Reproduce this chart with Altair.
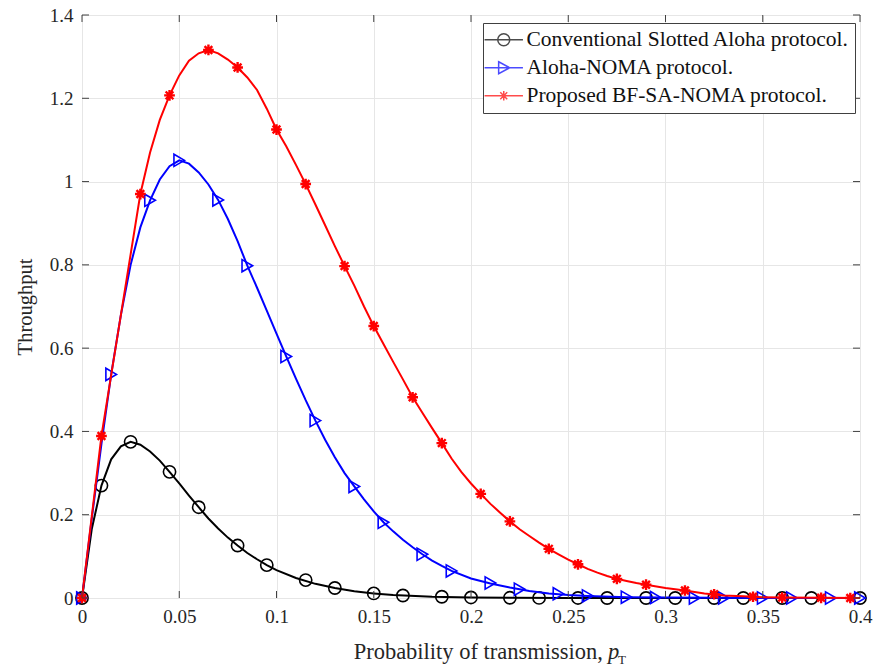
import altair as alt
import pandas as pd

# ---------------- data ----------------
names = ["Conventional Slotted Aloha protocol.", "Aloha-NOMA protocol.", "Proposed BF-SA-NOMA protocol."]
colors = ["#000000", "#0000ff", "#ff0000"]

# Conventional slotted Aloha (black)
black_x = [0, 0.005, 0.01, 0.015, 0.02, 0.025, 0.03, 0.035, 0.04, 0.045, 0.05, 0.055, 0.06, 0.065,
           0.07, 0.075, 0.08, 0.085, 0.09, 0.095, 0.1, 0.11, 0.12, 0.13, 0.14, 0.15, 0.16, 0.18,
           0.2, 0.22, 0.25, 0.3, 0.35, 0.4]
black_y = [0, 0.165, 0.27, 0.333, 0.364, 0.375, 0.368, 0.352, 0.33, 0.303, 0.275, 0.246, 0.218, 0.191,
           0.167, 0.145, 0.126, 0.108, 0.093, 0.079, 0.067, 0.048, 0.034, 0.024, 0.016, 0.011, 0.007, 0.003,
           0.0013, 0.0005, 0.0001, 0, 0, 0]
black_mx = [0, 0.01, 0.025, 0.045, 0.06, 0.08, 0.095, 0.115, 0.13, 0.15, 0.165, 0.185, 0.2, 0.22,
            0.235, 0.255, 0.27, 0.29, 0.305, 0.325, 0.34, 0.36, 0.375, 0.4]
black_my = [0, 0.27, 0.375, 0.303, 0.218, 0.126, 0.079, 0.043, 0.024, 0.011, 0.006, 0.003, 0.0013, 0.0005,
            0.0002, 0.0001, 0, 0, 0, 0, 0, 0, 0, 0]

# Aloha-NOMA (blue)
blue_x = [0, 0.005, 0.01, 0.015, 0.02, 0.025, 0.03, 0.035, 0.04, 0.045, 0.05, 0.055, 0.06, 0.065,
          0.07, 0.075, 0.08, 0.085, 0.09, 0.095, 0.1, 0.105, 0.11, 0.115, 0.12, 0.125, 0.13, 0.135,
          0.14, 0.145, 0.15, 0.155, 0.16, 0.165, 0.17, 0.175, 0.18, 0.185, 0.19, 0.2, 0.21, 0.22,
          0.23, 0.24, 0.25, 0.26, 0.28, 0.3, 0.35, 0.4]
blue_y = [0, 0.19, 0.37, 0.537, 0.68, 0.8, 0.89, 0.955, 1.005, 1.037, 1.051, 1.043, 1.022, 0.993,
          0.956, 0.91, 0.857, 0.798, 0.745, 0.69, 0.635, 0.58, 0.527, 0.475, 0.426, 0.38, 0.338, 0.3,
          0.268, 0.237, 0.208, 0.182, 0.16, 0.14, 0.122, 0.105, 0.09, 0.077, 0.065, 0.047, 0.035, 0.025,
          0.017, 0.011, 0.007, 0.005, 0.002, 0.001, 0, 0]
blue_mx = [0, 0.015, 0.035, 0.05, 0.07, 0.085, 0.105, 0.12, 0.14, 0.155, 0.175, 0.19, 0.21, 0.225,
           0.245, 0.26, 0.28, 0.295, 0.315, 0.33, 0.35, 0.365, 0.385, 0.4]
blue_my = [0, 0.537, 0.955, 1.051, 0.956, 0.798, 0.58, 0.426, 0.268, 0.182, 0.105, 0.065, 0.036, 0.021,
           0.01, 0.005, 0.002, 0.001, 0, 0, 0, 0, 0, 0]

# Proposed BF-SA-NOMA (red)
red_x = [0, 0.005, 0.01, 0.015, 0.02, 0.025, 0.03, 0.035, 0.04, 0.045, 0.05, 0.055, 0.06, 0.065,
         0.07, 0.075, 0.08, 0.085, 0.09, 0.095, 0.1, 0.105, 0.11, 0.115, 0.12, 0.125, 0.13, 0.135,
         0.14, 0.145, 0.15, 0.155, 0.16, 0.165, 0.17, 0.175, 0.18, 0.185, 0.19, 0.195, 0.2, 0.205,
         0.21, 0.215, 0.22, 0.225, 0.23, 0.235, 0.24, 0.245, 0.25, 0.255, 0.26, 0.265, 0.27, 0.275,
         0.28, 0.285, 0.29, 0.3, 0.31, 0.32, 0.33, 0.34, 0.35, 0.36, 0.38, 0.4]
red_y = [0, 0.195, 0.389, 0.535, 0.68, 0.825, 0.97, 1.07, 1.148, 1.207, 1.255, 1.29, 1.308, 1.316,
         1.308, 1.293, 1.274, 1.25, 1.22, 1.175, 1.125, 1.085, 1.04, 0.994, 0.945, 0.895, 0.845, 0.797,
         0.75, 0.7, 0.653, 0.61, 0.567, 0.525, 0.482, 0.445, 0.408, 0.372, 0.335, 0.303, 0.275, 0.25,
         0.226, 0.205, 0.184, 0.165, 0.149, 0.133, 0.118, 0.105, 0.092, 0.081, 0.07, 0.061, 0.053, 0.046,
         0.041, 0.036, 0.032, 0.024, 0.018, 0.011, 0.006, 0.004, 0.002, 0.001, 0.0005, 0]
red_mx = [0, 0.01, 0.03, 0.045, 0.065, 0.08, 0.1, 0.115, 0.135, 0.15, 0.17, 0.185, 0.205, 0.22,
          0.24, 0.255, 0.275, 0.29, 0.31, 0.325, 0.345, 0.36, 0.38, 0.395]
red_my = [0, 0.389, 0.97, 1.207, 1.316, 1.274, 1.125, 0.994, 0.797, 0.653, 0.482, 0.372, 0.25, 0.184,
          0.118, 0.081, 0.046, 0.032, 0.018, 0.009, 0.003, 0.001, 0.0005, 0]

x_ticks = [0, 0.05, 0.1, 0.15, 0.2, 0.25, 0.3, 0.35, 0.4]
y_ticks = [0, 0.2, 0.4, 0.6, 0.8, 1, 1.2, 1.4]

x_title = "Probability of transmission,"
x_title_var = "p"
x_title_sub = "T"
y_title = "Throughput"

# ---------------- chart ----------------
W, H = 778, 583
FONT = "Liberation Serif"
TXT = "#262626"
FRAME = "#404040"

xscale = alt.Scale(domain=[0, 0.4], nice=False, zero=False)
yscale = alt.Scale(domain=[0, 1.4], nice=False)

xenc = alt.X("x:Q", scale=xscale,
             axis=alt.Axis(values=x_ticks, format="~g", title=None, grid=True, ticks=False,
                           domain=False, labelPadding=9, labelFontSize=19, labelFont=FONT,
                           labelColor=TXT, labelFlush=False, labelOverlap=False))
yenc = alt.Y("y:Q", scale=yscale,
             axis=alt.Axis(values=y_ticks, format="~g", title=y_title, grid=True, ticks=False,
                           domain=False, labelPadding=9, labelFontSize=19, labelFont=FONT,
                           labelColor=TXT, labelFlush=False, labelOverlap=False,
                           titleFont=FONT, titleFontSize=20.5, titleFontWeight="normal",
                           titleColor=TXT, titlePadding=14))

asterisk = "M-1,0L1,0M0,-1L0,1M-0.72,-0.72L0.72,0.72M-0.72,0.72L0.72,-0.72"
shapes = ["circle", "triangle-right", asterisk]
sizes = [150, 150, 115]
widths = [1.6, 1.6, 2.4]


def series_layers(xs, ys, mxs, mys, color, shape, size, sw):
    line = alt.Chart(pd.DataFrame({"x": xs, "y": ys})).mark_line(
        color=color, strokeWidth=2).encode(x=xenc, y=yenc)
    pts = alt.Chart(pd.DataFrame({"x": mxs, "y": mys})).mark_point(
        shape=shape, size=size, color=color, filled=False, strokeWidth=sw, opacity=1
    ).encode(x=alt.X("x:Q", scale=xscale), y=alt.Y("y:Q", scale=yscale))
    return [line, pts]


layers = []
layers += series_layers(black_x, black_y, black_mx, black_my, colors[0], shapes[0], sizes[0], widths[0])
layers += series_layers(blue_x, blue_y, blue_mx, blue_my, colors[1], shapes[1], sizes[1], widths[1])
layers += series_layers(red_x, red_y, red_mx, red_my, colors[2], shapes[2], sizes[2], widths[2])

# inward ticks on all four sides (MATLAB box style)
xt = pd.DataFrame({"t": x_ticks})
yt = pd.DataFrame({"t": y_ticks})
tick_style = dict(color=FRAME, strokeWidth=1)
layers.append(alt.Chart(xt).mark_rule(y2Offset=-7, **tick_style).encode(
    x=alt.X("t:Q", scale=xscale), y=alt.datum(0), y2=alt.datum(0)))
layers.append(alt.Chart(xt).mark_rule(y2Offset=7, **tick_style).encode(
    x=alt.X("t:Q", scale=xscale), y=alt.datum(1.4), y2=alt.datum(1.4)))
layers.append(alt.Chart(yt).mark_rule(x2Offset=7, **tick_style).encode(
    y=alt.Y("t:Q", scale=yscale), x=alt.datum(0), x2=alt.datum(0)))
layers.append(alt.Chart(yt).mark_rule(x2Offset=-7, **tick_style).encode(
    y=alt.Y("t:Q", scale=yscale), x=alt.datum(0.4), x2=alt.datum(0.4)))

# legend: symbols with line stubs, drawn from a hidden (clipped) point layer
L = 3.2
leg_paths = [
    f"M-{L},0L{L},0M-1,0A1,1,0,1,0,1,0A1,1,0,1,0,-1,0",
    f"M-{L},0L{L},0M-0.85,-1L1,0L-0.85,1Z",
    f"M-{L},0L{L},0M-0.8,0L0.8,0M0,-0.8L0,0.8M-0.58,-0.58L0.58,0.58M-0.58,0.58L0.58,-0.58",
]
legend = alt.Legend(title=None, orient="none", legendX=401, legendY=8,
                    strokeColor=FRAME, fillColor="white", padding=6,
                    labelFont=FONT, labelFontSize=21.5, labelColor="#111111", labelLimit=600,
                    symbolSize=144, symbolStrokeWidth=1.5, symbolOffset=4, labelOffset=12,
                    rowPadding=5, cornerRadius=0)
leg_layer = alt.Chart(pd.DataFrame({"series": names})).mark_point(
    filled=False, strokeWidth=1.5, clip=True, size=144
).encode(
    x=alt.value(-200), y=alt.value(-200),
    color=alt.Color("series:N", scale=alt.Scale(domain=names, range=colors), legend=legend),
    shape=alt.Shape("series:N", scale=alt.Scale(domain=names, range=leg_paths), legend=legend),
)
layers.append(leg_layer)

# x-axis title with italic p and subscript T
t1 = alt.Chart(pd.DataFrame({"t": [x_title]})).mark_text(
    align="right", baseline="alphabetic", font=FONT, fontSize=22.5, color=TXT
).encode(text="t:N", x=alt.value(521), y=alt.value(644))
t2 = alt.Chart(pd.DataFrame({"t": [x_title_var]})).mark_text(
    align="left", baseline="alphabetic", font=FONT, fontSize=22.5, fontStyle="italic", color=TXT
).encode(text="t:N", x=alt.value(526), y=alt.value(644))
t3 = alt.Chart(pd.DataFrame({"t": [x_title_sub]})).mark_text(
    align="left", baseline="alphabetic", font=FONT, fontSize=13, color=TXT
).encode(text="t:N", x=alt.value(536), y=alt.value(649))
layers += [t1, t2, t3]

chart = alt.layer(*layers).properties(
    width=W, height=H,
    autosize=alt.AutoSizeParams(type="none"),
    padding={"left": 82, "top": 15, "right": 13, "bottom": 72},
    background="white",
).configure_view(
    stroke=FRAME, strokeWidth=1
).configure_axis(
    gridColor="#e6e6e6", gridWidth=1
)

chart.save("out.html", embed_options={"renderer": "svg", "actions": False})
